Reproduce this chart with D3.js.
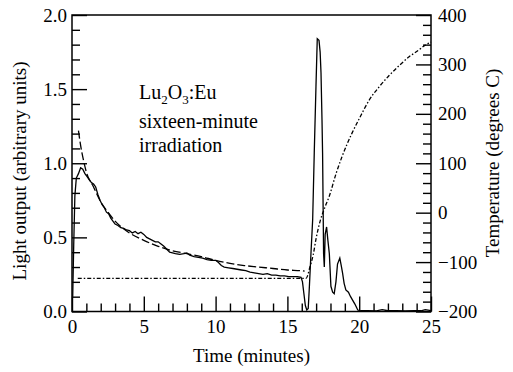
<!DOCTYPE html>
<html>
<head>
<meta charset="utf-8">
<script src="https://cdn.jsdelivr.net/npm/d3@7"></script>
<style>
html,body{margin:0;padding:0;background:#fff;}
svg{display:block;}
</style>
</head>
<body>
<svg id="chart" width="513" height="372"></svg>
<script>
// ---- data ----
const lightTime = [0.05,0.12,0.2,0.3,0.45,0.6,0.75,0.9,1.05,1.2,1.35,1.5,1.65,1.8,1.95,2.1,2.25,2.4,2.55,2.7,2.85,3.0,3.2,3.4,3.6,3.8,4.0,4.2,4.4,4.6,4.8,5.0,5.2,5.4,5.6,5.8,6.0,6.2,6.4,6.6,6.8,7.0,7.2,7.5,7.8,8.0,8.2,8.5,8.8,9.1,9.4,9.7,10.0,10.2,10.4,10.6,10.9,11.2,11.5,11.8,12.1,12.4,12.7,13.0,13.3,13.6,13.9,14.2,14.5,14.8,15.1,15.4,15.7,15.95,16.05,16.15,16.25,16.35,16.45,16.53,16.64,16.76,16.87,16.99,17.08,17.2,17.28,17.34,17.41,17.45,17.52,17.57,17.63,17.73,17.82,17.92,18.03,18.15,18.26,18.38,18.49,18.65,18.75,18.84,18.95,19.07,19.25,19.4,19.55,19.7,19.9,20.1,20.6,21.2,21.6,22.0,22.6,23.2,23.8,24.3,24.6,25.0];
const lightValue = [0.10,0.45,0.78,0.90,0.93,0.97,0.96,0.93,0.91,0.89,0.87,0.86,0.84,0.79,0.75,0.72,0.70,0.67,0.66,0.63,0.61,0.59,0.58,0.565,0.56,0.55,0.545,0.53,0.54,0.525,0.535,0.52,0.50,0.49,0.48,0.47,0.47,0.455,0.44,0.42,0.40,0.395,0.39,0.385,0.39,0.395,0.38,0.37,0.365,0.36,0.35,0.345,0.345,0.33,0.31,0.30,0.295,0.29,0.285,0.28,0.275,0.265,0.26,0.255,0.25,0.255,0.245,0.245,0.24,0.24,0.235,0.235,0.235,0.23,0.20,0.12,0.04,0.01,0.02,0.167,0.39,0.62,1.07,1.52,1.84,1.83,1.75,1.61,1.29,1.07,0.39,0.30,0.52,0.57,0.48,0.39,0.17,0.13,0.12,0.2,0.32,0.36,0.31,0.26,0.19,0.145,0.13,0.10,0.075,0.05,0.01,0.005,0.006,0.004,0.012,0.005,0.006,0.004,0.006,0.005,0.012,0.006];

const fitTime = [0.45,0.6,0.8,1.0,1.5,2.0,2.5,3.0,3.5,4.0,5.0,6.0,7.0,8.0,9.0,10.0,11.0,12.0,13.0,14.0,15.0,16.0,16.2];
const fitValue = [1.22,1.12,1.02,0.94,0.84,0.74,0.67,0.61,0.565,0.53,0.48,0.44,0.41,0.39,0.37,0.345,0.325,0.31,0.30,0.29,0.28,0.275,0.272];

const tempTime = [0.4,4.0,8.0,12.0,16.3,16.4,16.55,16.8,17.0,17.3,17.6,17.9,18.4,18.8,19.5,20.0,20.7,21.4,22.1,22.8,23.5,24.1,24.6,25.0];
const tempValue = [-133,-133,-133,-133,-133,-128,-112,-85,-52,-15,10,32,80,113,161,190,228,255,278,298,316,328,339,345];

const xTicks = [0,5,10,15,20,25];
const yLeftTicks = [0,0.5,1.0,1.5,2.0];
const yRightTicks = [-200,-100,0,100,200,300,400];

// ---- layout ----
const FONT = "'Liberation Serif', 'Times New Roman', Times, serif";
const svg = d3.select("#chart");
const L = 72, R = 431, T = 15, B = 311.5;
const x = d3.scaleLinear().domain([0,25]).range([L,R]);
const y = d3.scaleLinear().domain([0,2]).range([B,T]);
const yT = d3.scaleLinear().domain([-200,400]).range([B,T]);
const fs = "19px";

// minor ticks
const xMinor = d3.range(0,26,1).filter(v=>v%5!==0);
const yMinor = d3.range(0,21,1).map(v=>v/10).filter((v,i)=>i%5!==0);
const yTMinor = d3.range(-200,401,20).filter(v=>v%100!==0);

function styleAxis(g){
  g.attr("font-family",null).attr("font-size",null);
  g.select(".domain").remove();
  g.selectAll(".tick line").attr("stroke","#000").attr("stroke-width",1.4);
  g.selectAll("text").style("font-family",FONT).style("font-size",fs).attr("fill","#000");
}

svg.append("g").attr("transform",`translate(0,${B})`)
  .call(d3.axisBottom(x).tickValues(xTicks).tickSize(-15).tickPadding(8).tickFormat(d3.format("d"))).call(styleAxis);
svg.append("g").attr("transform",`translate(0,${B})`)
  .call(d3.axisBottom(x).tickValues(xMinor).tickSize(-8).tickFormat("")).call(styleAxis);

svg.append("g").attr("transform",`translate(${L},0)`)
  .call(d3.axisLeft(y).tickValues(yLeftTicks).tickSize(-15).tickPadding(5).tickFormat(d3.format(".1f"))).call(styleAxis);
svg.append("g").attr("transform",`translate(${L},0)`)
  .call(d3.axisLeft(y).tickValues(yMinor).tickSize(-8).tickFormat("")).call(styleAxis);

svg.append("g").attr("transform",`translate(${R},0)`)
  .call(d3.axisRight(yT).tickValues(yRightTicks).tickSize(-15).tickPadding(7).tickFormat(d3.format("d"))).call(styleAxis);
svg.append("g").attr("transform",`translate(${R},0)`)
  .call(d3.axisRight(yT).tickValues(yTMinor).tickSize(-8).tickFormat("")).call(styleAxis);

// frame
svg.append("rect").attr("x",L).attr("y",T).attr("width",R-L).attr("height",B-T)
  .attr("fill","none").attr("stroke","#000").attr("stroke-width",1.5);

// lines
const light = lightTime.map((t,i)=>[t,lightValue[i]]);
const fit = fitTime.map((t,i)=>[t,fitValue[i]]);
const temp = tempTime.map((t,i)=>[t,tempValue[i]]);

svg.append("path").datum(temp)
  .attr("d", d3.line().x(d=>x(d[0])).y(d=>yT(d[1])).curve(d3.curveMonotoneX))
  .attr("fill","none").attr("stroke","#000").attr("stroke-width",1.3).attr("stroke-dasharray","4,2,1.5,2");
svg.append("path").datum(fit)
  .attr("d", d3.line().x(d=>x(d[0])).y(d=>y(d[1])).curve(d3.curveMonotoneX))
  .attr("fill","none").attr("stroke","#000").attr("stroke-width",1.3).attr("stroke-dasharray","8,3");
svg.append("path").datum(light)
  .attr("d", d3.line().x(d=>x(d[0])).y(d=>y(d[1])))
  .attr("fill","none").attr("stroke","#000").attr("stroke-width",1.3);

// titles
function txt(){ return svg.append("text").style("font-family",FONT).attr("fill","#000"); }
txt().attr("x",(L+R)/2).attr("y",362).attr("text-anchor","middle").style("font-size","19px").text("Time (minutes)");
txt().attr("transform","translate(26,171) rotate(-90)").attr("text-anchor","middle").style("font-size","19px").text("Light output (arbitrary units)");
txt().attr("transform","translate(499,163) rotate(-90)").attr("text-anchor","middle").style("font-size","19px").text("Temperature (degrees C)");

// annotation
const ann = txt().attr("x",139).attr("y",99).style("font-size","20px");
ann.append("tspan").text("Lu");
ann.append("tspan").attr("dy",5).style("font-size","13px").text("2");
ann.append("tspan").attr("dy",-5).text("O");
ann.append("tspan").attr("dy",5).style("font-size","13px").text("3");
ann.append("tspan").attr("dy",-5).text(":Eu");
txt().attr("x",139).attr("y",128).style("font-size","20px").text("sixteen-minute");
txt().attr("x",139).attr("y",152).style("font-size","20px").text("irradiation");
</script>
</body>
</html>
